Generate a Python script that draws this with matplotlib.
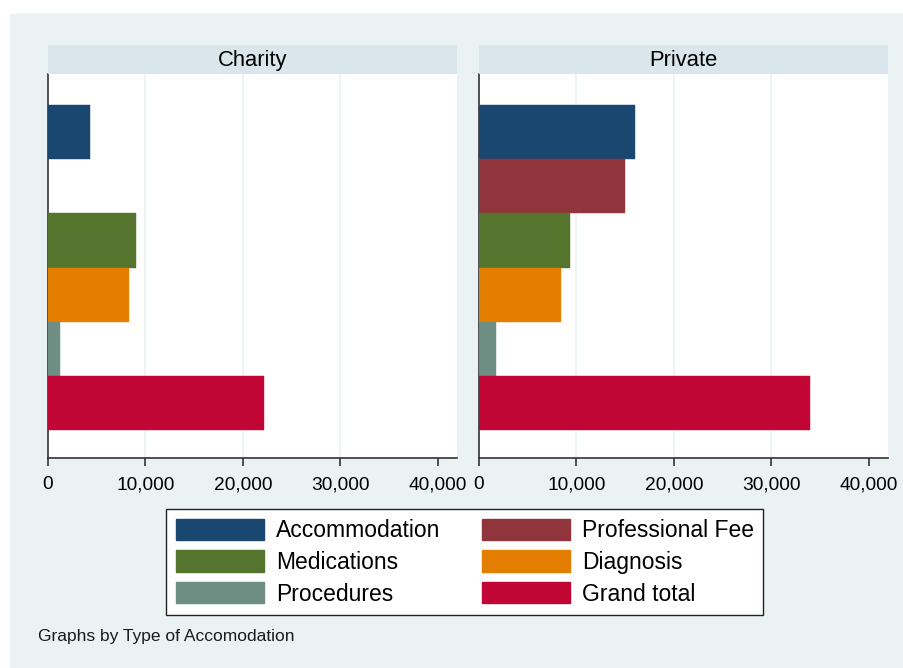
import numpy as np
import matplotlib
matplotlib.use('Agg')
import matplotlib.pyplot as plt
from matplotlib.patches import Patch, Rectangle
from matplotlib.ticker import FuncFormatter

plt.rcParams['font.family'] = ['Liberation Sans', 'DejaVu Sans']

# --- data: mean costs by type of accommodation ---
categories = ['Accommodation', 'Professional Fee', 'Medications',
              'Diagnosis', 'Procedures', 'Grand total']
panels = ['Charity', 'Private']
charity_vals = [4280, np.nan, 9030, 8350, 1260, 22200]
private_vals = [16030, 15000, 9390, 8390, 1750, 34020]
x_ticks = [0, 10000, 20000, 30000, 40000]

colors = ['#1a476f', '#90353b', '#55752f', '#e37e00', '#6e8e84', '#c10534']
outer_bg = '#eaf2f3'
strip_bg = '#d9e6eb'

W, H = 904, 668
fig = plt.figure(figsize=(W / 100, H / 100), dpi=100)
fig.patch.set_facecolor('white')
fig.patches.append(Rectangle((10 / W, 0), (W - 10) / W, (H - 14) / H,
                             transform=fig.transFigure, color=outer_bg,
                             zorder=-10))


def fx(px):
    return px / W


def fy(py):
    return 1 - py / H


panel_left = [48, 479]
panel_w = 409
top, bottom = 74, 458.3
strip_top = 45

for left, name, vals in zip(panel_left, panels, [charity_vals, private_vals]):
    ax = fig.add_axes([fx(left), fy(bottom), panel_w / W, (bottom - top) / H])
    ax.set_facecolor('white')
    ypos = np.arange(len(categories))
    for y, v, c in zip(ypos, vals, colors):
        if not np.isnan(v):
            ax.barh(y, v, height=1.0, color=c, edgecolor=c, linewidth=0.3,
                    zorder=3)
    ax.set_ylim(6.02, -1.07)
    ax.set_xlim(0, 42000)
    ax.set_xticks(x_ticks)
    ax.xaxis.set_major_formatter(FuncFormatter(lambda v, p: f'{int(v):,}'))
    ax.set_yticks([])
    for g in x_ticks[1:4]:
        ax.axvline(g, color=outer_bg, linewidth=1.2, zorder=1)
    for s in ['top', 'right']:
        ax.spines[s].set_visible(False)
    for s in ['left', 'bottom']:
        ax.spines[s].set_color('#333333')
        ax.spines[s].set_linewidth(1.2)
    ax.tick_params(axis='x', length=6, width=1.2, color='#333333',
                   labelsize=13.8, pad=7, labelcolor='black')

    # strip title
    sax = fig.add_axes([fx(left), fy(top), panel_w / W, (top - strip_top) / H])
    sax.set_facecolor(strip_bg)
    sax.set_xticks([])
    sax.set_yticks([])
    for s in sax.spines.values():
        s.set_visible(False)
    sax.text(0.5, 0.48, name, ha='center', va='center', fontsize=15.8,
             color='black', transform=sax.transAxes)

handles = [Patch(facecolor=c, edgecolor=c, label=l)
           for c, l in zip(colors, categories)]
# Stata fills the legend row-wise, matplotlib column-wise
order = [0, 2, 4, 1, 3, 5]
leg = fig.legend([handles[i] for i in order], [categories[i] for i in order],
                 loc='upper center', bbox_to_anchor=(fx(464.7), fy(509.3)),
                 ncol=2, fontsize=16.5, frameon=True, fancybox=False,
                 framealpha=1, handlelength=3.85, handleheight=1.05,
                 handletextpad=0.51, columnspacing=1.82, labelspacing=0.36,
                 borderpad=0.41, borderaxespad=0)
leg.get_frame().set_edgecolor('#222222')
leg.get_frame().set_linewidth(1.0)

fig.text(fx(37.5), fy(636), 'Graphs by Type of Accomodation', fontsize=12.5,
         color='#1a1a1a', va='center', ha='left')

fig.savefig('out.png', dpi=100, facecolor='white')
